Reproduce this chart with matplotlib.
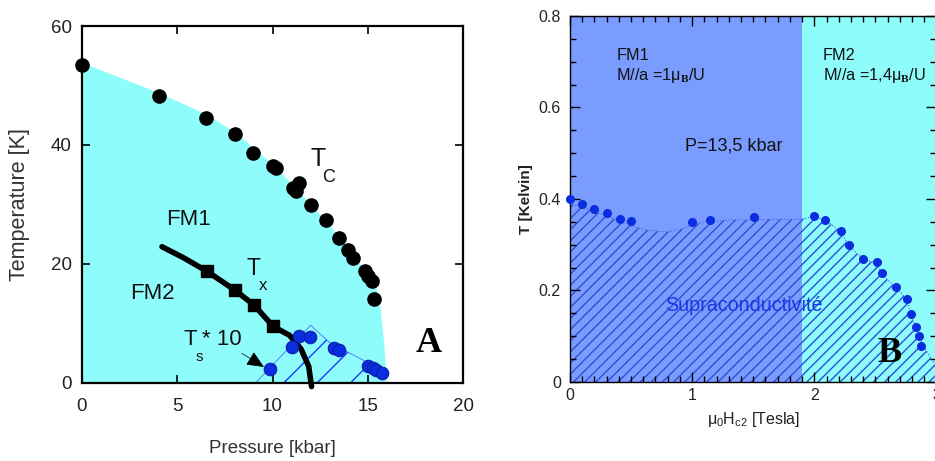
import numpy as np
import matplotlib
matplotlib.use('Agg')
import matplotlib.pyplot as plt

# polices
plt.rcParams['font.family'] = ['Liberation Sans', 'DejaVu Sans']
plt.rcParams['mathtext.fontset'] = 'custom'
plt.rcParams['mathtext.rm'] = 'Liberation Sans'
plt.rcParams['mathtext.it'] = 'Liberation Sans'
plt.rcParams['mathtext.bf'] = 'Liberation Serif:bold'
plt.rcParams['hatch.linewidth'] = 1.0

# ---- panneau A : T(P) ----
tc_p = [0, 4.02, 6.53, 8.03, 9.0, 10.04, 10.2, 11.1, 11.39, 11.25, 12.0, 12.8, 13.5, 13.97, 14.2, 14.85, 15.0, 15.2, 15.32]
tc_t = [53.5, 48.3, 44.6, 41.8, 38.6, 36.4, 36.2, 32.8, 33.6, 32.3, 29.9, 27.4, 24.4, 22.4, 21.0, 18.8, 17.9, 17.1, 14.1]

edge_p = [0, 2, 4, 6.5, 8, 9, 10, 11, 12, 13, 14, 15, 15.45, 15.7, 15.85, 15.95, 16.0]
edge_t = [53.8, 51.3, 48.8, 45.2, 42.2, 39.5, 36.8, 33.5, 30.0, 26.5, 22.5, 18.2, 16.0, 12.0, 7.0, 3.0, 0]

tx_p = [4.2, 5.3, 6.55, 8.03, 9.03, 10.04, 10.9, 11.5, 11.9, 12.05]
tx_t = [22.9, 21.1, 18.8, 15.6, 13.1, 9.5, 8.0, 5.7, 2.8, -0.6]
tx_sq_p = [6.55, 8.03, 9.03, 10.04]
tx_sq_t = [18.8, 15.6, 13.1, 9.5]

ts_p = [9.87, 11.0, 11.41, 11.97, 13.23, 13.51, 15.0, 15.3, 15.45, 15.73]
ts_t = [2.35, 6.1, 7.9, 7.8, 5.8, 5.5, 2.85, 2.45, 2.2, 1.7]

sc_a_p = [9.1, 12.0, 13.0, 14.9, 15.75, 15.8]
sc_a_t = [0, 9.7, 6.8, 3.6, 1.8, 0]

# ---- panneau B : T(H) a P=13,5 kbar ----
hc2_h = [0, 0.10, 0.20, 0.30, 0.41, 0.50, 1.0, 1.15, 1.51, 2.0, 2.09, 2.22, 2.28, 2.40, 2.51, 2.55, 2.67, 2.76, 2.79, 2.83, 2.86, 2.87]
hc2_t = [0.401, 0.389, 0.377, 0.369, 0.356, 0.351, 0.349, 0.355, 0.361, 0.363, 0.355, 0.329, 0.299, 0.269, 0.262, 0.238, 0.208, 0.181, 0.149, 0.120, 0.100, 0.079]

sc_b_h = [0, 0, 0.1, 0.25, 0.4, 0.52, 0.65, 0.79, 0.9, 0.96, 1.1, 1.3, 1.9, 2.0, 2.09, 2.22, 2.28, 2.40, 2.51, 2.55, 2.67, 2.76, 2.79, 2.83, 2.86, 2.9, 2.96, 3.0, 3.0]
sc_b_t = [0, 0.39, 0.382, 0.368, 0.353, 0.34, 0.331, 0.328, 0.333, 0.339, 0.35, 0.354, 0.356, 0.362, 0.354, 0.328, 0.298, 0.268, 0.26, 0.236, 0.206, 0.18, 0.148, 0.118, 0.098, 0.075, 0.05, 0.035, 0]

fm_edges = [0, 1.9, 3.0]

cyan = '#8ffcfc'
bleu = '#7b9cff'
txt = '#111111'

fig = plt.figure(figsize=(9.35, 4.61), dpi=100)

# ============ A ============
ax1 = fig.add_axes([0.0877, 0.1692, 0.4075, 0.7744])
ax1.fill(edge_p + [0], edge_t + [0], color=cyan, lw=0, zorder=0)
ax1.fill(sc_a_p, sc_a_t, facecolor='none', edgecolor='#1a3cff', hatch='/', lw=0, zorder=1)
ax1.plot(sc_a_p[:-1], sc_a_t[:-1], color='#4d6cff', lw=0.6, zorder=1)
ax1.plot(tx_p, tx_t, color='black', lw=4, solid_capstyle='round', zorder=3, clip_on=False)
ax1.plot(tx_sq_p, tx_sq_t, 's', color='black', ms=8, zorder=3)
ax1.plot(tc_p, tc_t, 'o', color='black', ms=9.5, zorder=4, clip_on=False)
ax1.plot(ts_p, ts_t, 'o', color='#0b2de0', mec='#0a1fa8', mew=0.8, ms=9, zorder=5)

ax1.set_xlim(0, 20)
ax1.set_ylim(0, 60)
ax1.set_xticks([0, 5, 10, 15, 20])
ax1.set_yticks([0, 20, 40, 60])
ax1.tick_params(direction='in', top=True, right=True, length=6, width=1.2,
                labelsize=13.5, labelcolor='#222222')
ax1.tick_params(axis='x', pad=11)
ax1.tick_params(axis='y', pad=7.5)
for s in ax1.spines.values():
    s.set_linewidth(1.6)
ax1.set_xlabel('Pressure [kbar]', fontsize=13.5, color='#333333', labelpad=18)
ax1.set_ylabel('Temperature [K]', fontsize=15.5, color='#333333', labelpad=15)

# T_C
ax1.text(11.97, 36.5, 'T', fontsize=18, color=txt, va='baseline')
ax1.text(12.6, 33.8, 'C', fontsize=13, color=txt, va='baseline')
# FM1 / FM2
ax1.text(5.59, 27.4, 'FM1', fontsize=16, color=txt, ha='center', va='center')
ax1.text(3.71, 15.1, 'FM2', fontsize=16, color=txt, ha='center', va='center')
# T_x
ax1.text(8.65, 18.1, 'T', fontsize=16.5, color=txt, va='baseline')
ax1.text(9.26, 15.6, 'x', fontsize=12, color=txt, va='baseline')
# T_s * 10
ax1.text(5.32, 6.4, 'T', fontsize=16, color=txt, va='baseline')
ax1.text(5.98, 3.7, 's', fontsize=11, color=txt, va='baseline')
ax1.text(6.28, 6.4, '* 10', fontsize=16, color=txt, va='baseline')
ax1.annotate('', xy=(9.55, 2.7), xytext=(8.38, 5.0),
             arrowprops=dict(arrowstyle='-|>,head_length=0.9,head_width=0.4',
                             color='black', lw=0.5, mutation_scale=12,
                             shrinkA=0, shrinkB=0))
ax1.text(17.5, 6.7, 'A', fontsize=26, fontweight='bold', family='Liberation Serif', va='center')

# ============ B ============
ax2 = fig.add_axes([0.6096, 0.1714, 0.392, 0.794])
ax2.axvspan(fm_edges[0], fm_edges[1], color=bleu, lw=0, zorder=0)
ax2.axvspan(fm_edges[1], fm_edges[2], color=cyan, lw=0, zorder=0)
ax2.fill(sc_b_h, sc_b_t, facecolor='none', edgecolor='#2e4fd6', hatch='///', lw=0, zorder=1)
ax2.plot(sc_b_h[1:-1], sc_b_t[1:-1], ':', color='#3f5fe0', lw=0.8, zorder=1)
ax2.plot(hc2_h, hc2_t, 'o', color='#0b2de0', ms=5.5, zorder=4, clip_on=False)

ax2.set_xlim(0, 3)
ax2.set_ylim(0, 0.8)
ax2.set_xticks([0, 1, 2, 3])
ax2.set_yticks([0, 0.2, 0.4, 0.6, 0.8])
ax2.set_yticklabels(['0', '0.2', '0.4', '0.6', '0.8'])
ax2.set_xticks(np.arange(0, 3.01, 0.1), minor=True)
ax2.set_yticks(np.arange(0, 0.801, 0.05), minor=True)
ax2.tick_params(which='both', direction='in', top=True, right=True, width=1.0,
                labelsize=11.5, labelcolor='#222222')
ax2.tick_params(which='major', length=7)
ax2.tick_params(which='minor', length=4)
ax2.tick_params(axis='x', pad=4.3)
ax2.tick_params(axis='y', pad=6.5)
for s in ax2.spines.values():
    s.set_linewidth(1.0)
ax2.set_xlabel(r'$\mu_0H_{c2}$ [Tesla]', fontsize=11.5, color='#222222', labelpad=5)
ax2.set_ylabel('T [Kelvin]', fontsize=11, fontweight='bold', color='#222222', labelpad=4)

ax2.text(0.38, 0.69, 'FM1\nM//a =1$\\mu_{\\mathbf{B}}$/U', fontsize=11.7, color=txt,
         va='center', linespacing=1.25)
ax2.text(2.07, 0.69, 'FM2\nM//a =1,4$\\mu_{\\mathbf{B}}$/U', fontsize=11.7, color=txt,
         va='center', linespacing=1.25)
ax2.text(0.94, 0.516, 'P=13,5 kbar', fontsize=13, color=txt, va='center')
ax2.text(1.42, 0.168, 'Supraconductivité', fontsize=14.2, color='#1e36e0', ha='center', va='center')
ax2.text(2.52, 0.063, 'B', fontsize=26, fontweight='bold', family='Liberation Serif', va='center')

fig.savefig('out.png', dpi=100)
